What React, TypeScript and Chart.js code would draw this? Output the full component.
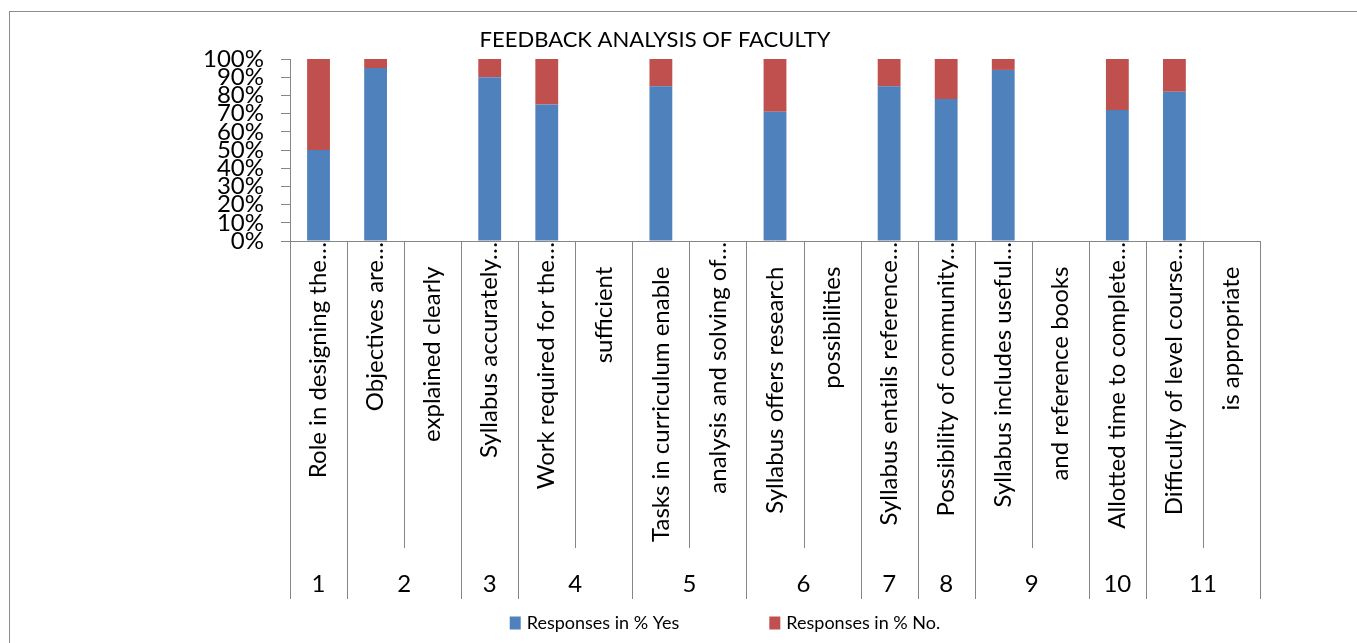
import React, { useEffect, useRef } from "react";
import { Chart, registerables } from "chart.js";

Chart.register(...registerables);

const chartTitle = "FEEDBACK ANALYSIS OF FACULTY";

const categories = [
  "Role in designing the…",
  "Objectives are…",
  "explained clearly",
  "Syllabus accurately…",
  "Work required for the…",
  "sufficient",
  "Tasks in curriculum enable",
  "analysis and solving of…",
  "Syllabus offers research",
  "possibilities",
  "Syllabus entails reference…",
  "Possibility of community…",
  "Syllabus includes useful…",
  "and reference books",
  "Allotted time to complete…",
  "Difficulty of level course…",
  "is appropriate",
];

const yesValues = [50, 95, null, 90, 75, null, 85, null, 71, null, 85, 78, 94, null, 72, 82, null];
const noValues = [50, 5, null, 10, 25, null, 15, null, 29, null, 15, 22, 6, null, 28, 18, null];

const groupLabels = ["1", "2", "3", "4", "5", "6", "7", "8", "9", "10", "11"];
const groupSizes = [1, 2, 1, 2, 2, 2, 1, 1, 2, 1, 2];

const seriesNames = ["Responses in % Yes", "Responses in % No."];
const seriesColors = ["#4F81BD", "#C0504D"];

const FONT = "Lato, 'Liberation Sans', sans-serif";
const AXIS_GREY = "#868686";

const groupAxisPlugin = {
  id: "groupAxis",
  afterDraw(chart: any, _args: any, opts: any) {
    const xs = chart.scales.x;
    const ctx = chart.ctx as CanvasRenderingContext2D;
    const n = chart.data.labels.length;
    const step = xs.getPixelForValue(1) - xs.getPixelForValue(0);
    const left = xs.getPixelForValue(0) - step / 2;
    const edges: number[] = [];
    for (let i = 0; i <= n; i++) edges.push(left + i * step);
    const groupEdges = new Set<number>([0]);
    let acc = 0;
    for (const s of groupSizes) {
      acc += s;
      groupEdges.add(acc);
    }
    ctx.save();
    ctx.strokeStyle = AXIS_GREY;
    ctx.lineWidth = 1;
    edges.forEach((x, i) => {
      const px = Math.round(x) + 0.5;
      const len = groupEdges.has(i) ? opts.groupLineLen : opts.innerLineLen;
      ctx.beginPath();
      ctx.moveTo(px, xs.top);
      ctx.lineTo(px, xs.top + len);
      ctx.stroke();
    });
    ctx.fillStyle = "#000";
    ctx.font = `${opts.groupFontSize}px ${FONT}`;
    ctx.textAlign = "center";
    ctx.textBaseline = "middle";
    let start = 0;
    groupSizes.forEach((s, g) => {
      const cx = (edges[start] + edges[start + s]) / 2;
      ctx.fillText(groupLabels[g], cx, xs.top + opts.groupLabelOffset);
      start += s;
    });

    // legend
    ctx.font = `${opts.legendFontSize}px ${FONT}`;
    ctx.textAlign = "left";
    const items = chart.data.datasets.map((d: any) => ({
      label: d.label as string,
      color: d.backgroundColor as string,
      w: ctx.measureText(d.label).width,
    }));
    const boxW = opts.legendBoxW;
    const boxH = opts.legendBoxH;
    const boxGap = opts.legendBoxGap;
    const itemGap = opts.legendItemGap;
    const total =
      items.reduce((a: number, it: any) => a + boxW + boxGap + it.w, 0) + itemGap * (items.length - 1);
    let x = opts.legendCenterX - total / 2;
    const y = opts.legendY;
    items.forEach((it: any) => {
      ctx.fillStyle = it.color;
      ctx.fillRect(x, y - boxH / 2, boxW, boxH);
      ctx.fillStyle = "#000";
      ctx.fillText(it.label, x + boxW + boxGap, y);
      x += boxW + boxGap + it.w + itemGap;
    });
    ctx.restore();
  },
};

export default function App() {
  const ref = useRef<HTMLCanvasElement>(null);
  useEffect(() => {
    const chart = new Chart(ref.current as HTMLCanvasElement, {
      type: "bar",
      data: {
        labels: categories,
        datasets: [
          {
            label: seriesNames[0],
            data: yesValues,
            backgroundColor: seriesColors[0],
            barPercentage: 0.4,
            categoryPercentage: 1,
          },
          {
            label: seriesNames[1],
            data: noValues,
            backgroundColor: seriesColors[1],
            barPercentage: 0.4,
            categoryPercentage: 1,
          },
        ],
      },
      options: {
        animation: false,
        responsive: false,
        maintainAspectRatio: false,
        layout: { padding: { left: 40, right: 40, top: 0, bottom: 46 } },
        plugins: {
          legend: { display: false },
          tooltip: { enabled: false },
          title: {
            display: true,
            text: chartTitle,
            color: "#000",
            font: { family: FONT, size: 22, weight: "normal" },
            padding: { top: 15, bottom: 5.6 },
          },
          groupAxis: {
            groupLineLen: 358,
            innerLineLen: 307,
            groupLabelOffset: 343,
            groupFontSize: 24,
            legendFontSize: 18,
            legendBoxW: 11,
            legendBoxH: 13,
            legendBoxGap: 6,
            legendItemGap: 90,
            legendCenterX: 715,
            legendY: 611,
          },
        } as any,
        scales: {
          x: {
            stacked: true,
            offset: true,
            grid: { display: false, drawTicks: false },
            border: { display: true, color: AXIS_GREY, width: 1 },
            ticks: {
              autoSkip: false,
              maxRotation: 90,
              minRotation: 90,
              padding: 1,
              color: "#000",
              font: { family: FONT, size: 24 },
              callback: (_v: any, i: number) => {
                const l = categories[i];
                return l.endsWith("…") ? l : l + "    ";
              },
            },
            afterFit: (s: any) => {
              s.height = 356;
            },
          },
          y: {
            stacked: true,
            min: 0,
            max: 100,
            grid: { drawOnChartArea: false, drawTicks: true, tickLength: 9, color: AXIS_GREY },
            border: { display: true, color: AXIS_GREY, width: 1 },
            ticks: {
              stepSize: 10,
              autoSkip: false,
              padding: 17,
              color: "#000",
              font: { family: FONT, size: 24 },
              callback: (v: any) => v + "%",
            },
            afterFit: (s: any) => {
              s.width = 240;
            },
          },
        },
      } as any,
      plugins: [groupAxisPlugin],
    });
    return () => chart.destroy();
  }, []);
  return (
    <div
      style={{
        position: "fixed",
        left: 0,
        top: 0,
        width: 1357,
        height: 643,
        overflow: "hidden",
        background: "#fff",
      }}
    >
      <div
        style={{
          position: "absolute",
          left: 9,
          top: 11,
          width: 1400,
          height: 700,
          borderLeft: "1px solid #8c8c8c",
          borderTop: "1px solid #8c8c8c",
        }}
      />
      <canvas
        ref={ref}
        width={1290}
        height={631}
        style={{ position: "absolute", left: 10, top: 12, width: 1290, height: 631 }}
      />
    </div>
  );
}
